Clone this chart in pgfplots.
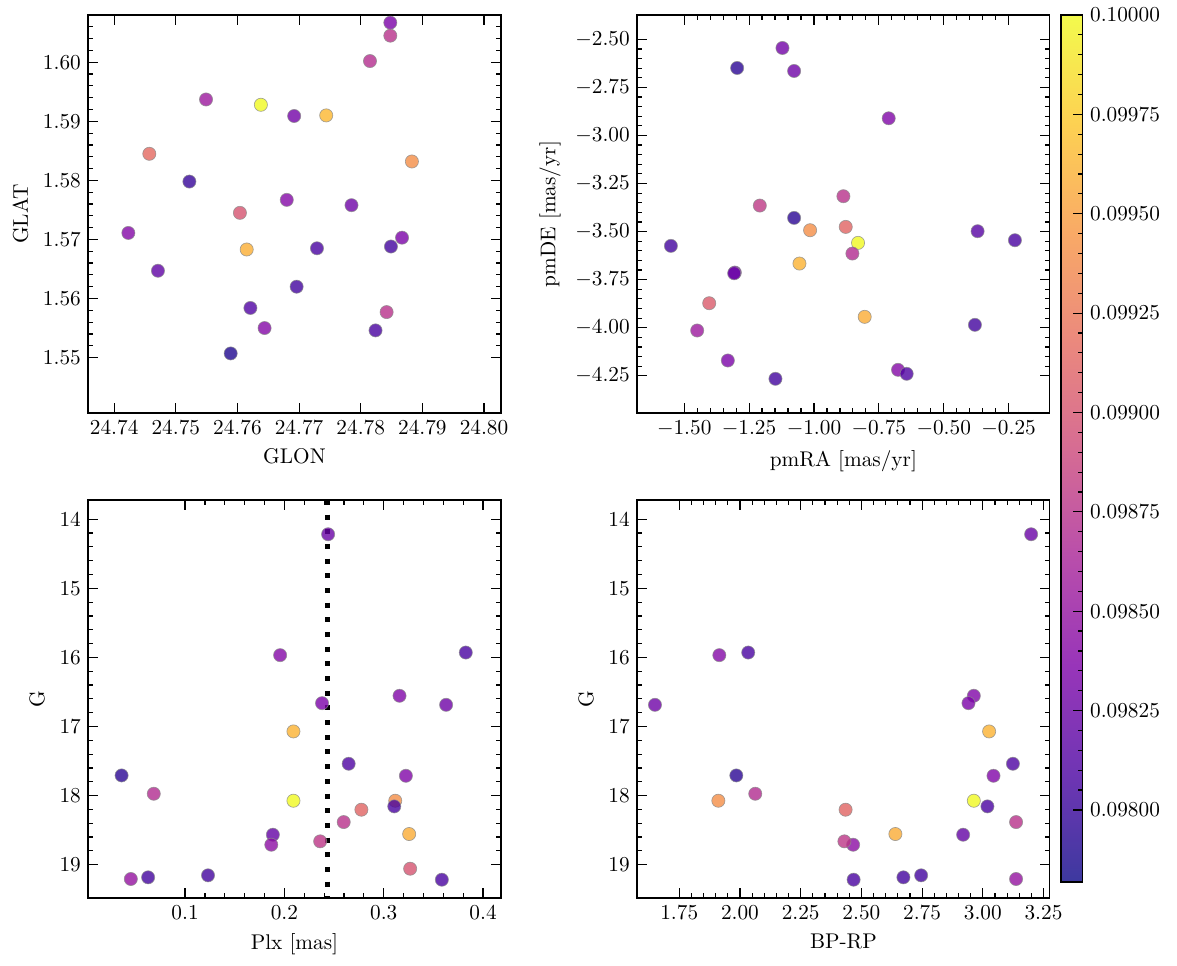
\documentclass[border=0pt]{standalone}
\usepackage{pgfplots}
\usepackage{pgfplotstable}
\pgfplotsset{compat=1.18}

\pgfplotsset{
  colormap={plasma}{rgb255=(13,8,135) rgb255=(75,3,161) rgb255=(126,3,168) rgb255=(168,34,150) rgb255=(204,71,120) rgb255=(230,108,92) rgb255=(248,149,64) rgb255=(253,197,39) rgb255=(240,249,33)},
  colormap={plasmablend}{rgb255=(61,57,159) rgb255=(111,53,180) rgb255=(152,53,185) rgb255=(185,78,171) rgb255=(214,108,147) rgb255=(235,137,125) rgb255=(249,170,102) rgb255=(253,209,82) rgb255=(243,250,77)},
  panel/.style={
    scale only axis, width=193.8pt, height=187.1pt, anchor=south west,
    major tick length=4.7pt, minor tick length=2.35pt,
    tick style={black, line width=0.55pt},
    axis line style={line width=0.8pt},
    scaled ticks=false, minor tick num=4, tick align=inside,
    colormap name=plasma,
    point meta min=0.0978186, point meta max=0.1,
  },
  star/.style={scatter, only marks, mark=*, mark size=3.1pt,
    point meta=explicit,
    scatter/use mapped color={draw=black!45, fill=mapped color},
    mark options={line width=0.3pt}, opacity=0.8},
}

\pgfplotstableread{
glon glat c
24.7848 1.6067 0.09835
24.7848 1.6045 0.09875
24.7815 1.6002 0.09872
24.7549 1.5937 0.09855
24.7638 1.5928 0.10000
24.7692 1.5909 0.09830
24.7744 1.5910 0.09965
24.7457 1.5845 0.09915
24.7883 1.5832 0.09940
24.7522 1.5798 0.09800
24.7680 1.5767 0.09840
24.7604 1.5745 0.09900
24.7785 1.5758 0.09828
24.7423 1.5711 0.09840
24.7867 1.5703 0.09835
24.7615 1.5683 0.09960
24.7729 1.5685 0.09808
24.7849 1.5688 0.09805
24.7471 1.5647 0.09820
24.7696 1.5620 0.09805
24.7621 1.5584 0.09812
24.7644 1.5550 0.09840
24.7842 1.5577 0.09875
24.7824 1.5546 0.09808
24.7589 1.5507 0.09790
}\tabpos

\pgfplotstableread{
pmra pmde c
-1.1214 -2.5450 0.09830
-1.2960 -2.6490 0.09795
-1.0765 -2.6646 0.09828
-0.7120 -2.9107 0.09838
-0.8866 -3.3160 0.09875
-1.2087 -3.3647 0.09880
-1.0765 -3.4288 0.09795
-1.0149 -3.4929 0.09940
-0.8776 -3.4756 0.09912
-0.8301 -3.5587 0.10000
-0.8519 -3.6142 0.09870
-1.5513 -3.5743 0.09805
-0.3694 -3.4980 0.09815
-0.2256 -3.5449 0.09808
-1.0559 -3.6662 0.09962
-1.3049 -3.7130 0.09830
-1.3075 -3.7170 0.09825
-1.4037 -3.8725 0.09905
-0.8045 -3.9434 0.09958
-0.3797 -3.9850 0.09805
-1.4500 -4.0144 0.09855
-1.3319 -4.1704 0.09835
-1.1484 -4.2657 0.09805
-0.6760 -4.2190 0.09840
-0.6427 -4.2397 0.09810
}\tabpm

\pgfplotstableread{
plx G bprp c
0.2440 14.217 3.199 0.09825
0.1957 15.967 1.915 0.09840
0.3826 15.929 2.034 0.09808
0.3159 16.555 2.963 0.09838
0.3628 16.686 1.650 0.09828
0.2379 16.662 2.941 0.09835
0.2091 17.071 3.026 0.09962
0.2647 17.539 3.124 0.09810
0.0361 17.708 1.985 0.09795
0.3223 17.713 3.044 0.09838
0.0685 17.973 2.063 0.09870
0.2091 18.074 2.963 0.10000
0.3116 18.074 1.911 0.09940
0.3106 18.156 3.019 0.09808
0.2775 18.204 2.435 0.09912
0.2597 18.383 3.137 0.09875
0.1884 18.566 2.919 0.09822
0.1868 18.711 2.466 0.09845
0.2360 18.662 2.430 0.09878
0.3256 18.556 2.640 0.09958
0.3266 19.058 nan 0.09900
0.0454 19.207 3.137 0.09850
0.0628 19.183 2.673 0.09805
0.1231 19.154 2.746 0.09805
0.3585 19.217 2.468 0.09808
}\tabcmd

\begin{document}
\begin{tikzpicture}
\useasboundingbox (0,0) rectangle (553.19pt,453.55pt);

% top left
\begin{axis}[panel, at={(41.5pt,259.4pt)},
  xmin=24.7358, xmax=24.8027, ymin=1.5406, ymax=1.6080,
  xtick={24.74,24.75,...,24.805}, ytick={1.55,1.56,...,1.605},
  xticklabel style={/pgf/number format/.cd, fixed, fixed zerofill, precision=2},
  yticklabel style={/pgf/number format/.cd, fixed, fixed zerofill, precision=2},
  xlabel={GLON}, ylabel={GLAT}]
\addplot[star] table[x=glon, y=glat, meta=c] {\tabpos};
\end{axis}

% top right
\begin{axis}[panel, at={(299.5pt,259.4pt)},
  xmin=-1.681, xmax=-0.092, ymin=-4.444, ymax=-2.3735,
  xtick={-1.5,-1.25,...,-0.2}, ytick={-4.25,-4,...,-2.4},
  xticklabel style={/pgf/number format/.cd, fixed, fixed zerofill, precision=2},
  yticklabel style={/pgf/number format/.cd, fixed, fixed zerofill, precision=2},
  xlabel={pmRA [mas/yr]}, ylabel={pmDE [mas/yr]},
  colorbar,
  colorbar style={
    colormap name=plasmablend,
    at={(parent axis.north east)}, anchor=north west, xshift=-3.3pt,
    scale only axis, width=10.3pt, height=407.5pt,
    ytick={0.098,0.09825,0.0985,0.09875,0.099,0.09925,0.0995,0.09975,0.1},
    minor y tick num=4,
    scaled y ticks=false,
    ytick pos=right, yticklabel pos=right, tick align=inside,
    major tick length=4.7pt, minor tick length=2.35pt,
    tick style={black, line width=0.55pt},
    axis line style={line width=0.8pt},
    yticklabel style={/pgf/number format/.cd, fixed, fixed zerofill, precision=5},
  }]
\addplot[star] table[x=pmra, y=pmde, meta=c] {\tabpm};
\end{axis}

% bottom left
\begin{axis}[panel, at={(41.5pt,31.5pt)},
  xmin=0.00258, xmax=0.4177, ymin=13.72, ymax=19.482, y dir=reverse,
  xtick={0.1,0.2,0.3,0.4}, ytick={14,15,...,19},
  xticklabel style={/pgf/number format/.cd, fixed, fixed zerofill, precision=1},
  xlabel={Plx [mas]}, ylabel={G}]
\addplot[star] table[x=plx, y=G, meta=c] {\tabcmd};
\addplot[black, line width=2.35pt, dash pattern=on 2.35pt off 4.55pt] coordinates {(0.2436,13.72) (0.2436,19.482)};
\end{axis}

% bottom right
\begin{axis}[panel, at={(299.5pt,31.5pt)},
  xmin=1.577, xmax=3.275, ymin=13.72, ymax=19.482, y dir=reverse,
  xtick={1.75,2,...,3.3}, ytick={14,15,...,19},
  xticklabel style={/pgf/number format/.cd, fixed, fixed zerofill, precision=2},
  xlabel={BP-RP}, ylabel={G}]
\addplot[star] table[x=bprp, y=G, meta=c] {\tabcmd};
\end{axis}
\end{tikzpicture}
\end{document}
